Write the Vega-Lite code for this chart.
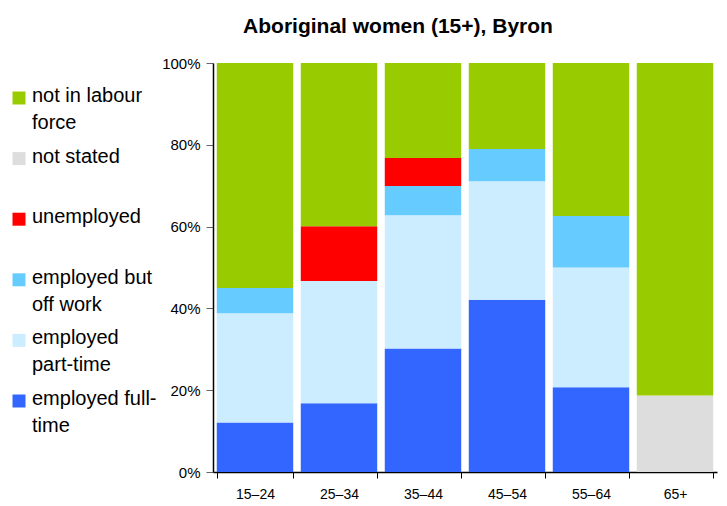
{
  "$schema": "https://vega.github.io/schema/vega-lite/v6.json",
  "autosize": "none",
  "width": 504,
  "height": 409,
  "padding": {"left": 213, "top": 63, "right": 10, "bottom": 34},
  "background": "white",
  "title": {
    "text": "Aboriginal women (15+), Byron",
    "font": "Liberation Sans",
    "fontSize": 21,
    "fontWeight": "bold",
    "color": "black",
    "anchor": "middle",
    "dx": -67,
    "offset": 19
  },
  "data": {
    "values": [
      {"age": "15–24", "status": "employed full-time", "ord": 1, "pct": 12.1},
      {"age": "15–24", "status": "employed part-time", "ord": 2, "pct": 26.7},
      {"age": "15–24", "status": "employed but off work", "ord": 3, "pct": 6.2},
      {"age": "15–24", "status": "not in labour force", "ord": 6, "pct": 55.0},
      {"age": "25–34", "status": "employed full-time", "ord": 1, "pct": 16.8},
      {"age": "25–34", "status": "employed part-time", "ord": 2, "pct": 29.9},
      {"age": "25–34", "status": "unemployed", "ord": 4, "pct": 13.4},
      {"age": "25–34", "status": "not in labour force", "ord": 6, "pct": 39.9},
      {"age": "35–44", "status": "employed full-time", "ord": 1, "pct": 30.2},
      {"age": "35–44", "status": "employed part-time", "ord": 2, "pct": 32.6},
      {"age": "35–44", "status": "employed but off work", "ord": 3, "pct": 7.1},
      {"age": "35–44", "status": "unemployed", "ord": 4, "pct": 6.9},
      {"age": "35–44", "status": "not in labour force", "ord": 6, "pct": 23.2},
      {"age": "45–54", "status": "employed full-time", "ord": 1, "pct": 42.1},
      {"age": "45–54", "status": "employed part-time", "ord": 2, "pct": 29.0},
      {"age": "45–54", "status": "employed but off work", "ord": 3, "pct": 7.9},
      {"age": "45–54", "status": "not in labour force", "ord": 6, "pct": 21.0},
      {"age": "55–64", "status": "employed full-time", "ord": 1, "pct": 20.7},
      {"age": "55–64", "status": "employed part-time", "ord": 2, "pct": 29.3},
      {"age": "55–64", "status": "employed but off work", "ord": 3, "pct": 12.6},
      {"age": "55–64", "status": "not in labour force", "ord": 6, "pct": 37.4},
      {"age": "65+", "status": "not stated", "ord": 0, "pct": 18.7},
      {"age": "65+", "status": "not in labour force", "ord": 6, "pct": 81.3}
    ]
  },
  "mark": {"type": "bar"},
  "encoding": {
    "x": {
      "field": "age",
      "type": "nominal",
      "sort": null,
      "scale": {"paddingInner": 0.09, "paddingOuter": 0.045},
      "axis": {
        "title": null,
        "labelAngle": 0,
        "labelFont": "Liberation Sans",
        "labelFontSize": 14,
        "labelColor": "black",
        "labelPadding": 9,
        "domainColor": "black",
        "domainWidth": 1.5,
        "tickColor": "black",
        "tickSize": 6,
        "tickBand": "extent"
      }
    },
    "y": {
      "field": "pct",
      "type": "quantitative",
      "stack": "normalize",
      "scale": {"domain": [0, 1]},
      "axis": {
        "title": null,
        "format": ".0%",
        "values": [0, 0.2, 0.4, 0.6, 0.8, 1],
        "grid": false,
        "labelFont": "Liberation Sans",
        "labelFontSize": 15,
        "labelColor": "black",
        "labelPadding": 6,
        "domainColor": "black",
        "domainWidth": 1.5,
        "tickColor": "#666666",
        "tickSize": 7
      }
    },
    "order": {"field": "ord", "type": "quantitative"},
    "color": {
      "field": "status",
      "type": "nominal",
      "scale": {
        "domain": ["not in labour force", "not stated", "unemployed", "employed but off work", "employed part-time", "employed full-time"],
        "range": ["#99CC00", "#DDDDDD", "#FF0000", "#66CCFF", "#CCECFF", "#3366FF"]
      },
      "legend": {
        "title": null,
        "orient": "none",
        "legendX": -204,
        "legendY": 25,
        "symbolType": "square",
        "symbolSize": 169,
        "symbolStrokeWidth": 0,
        "labelFont": "Liberation Sans",
        "labelFontSize": 20,
        "labelColor": "black",
        "labelLimit": 300,
        "labelOffset": 3,
        "labelBaseline": "top",
        "rowPadding": 13.6,
        "labelExpr": "datum.label == 'not in labour force' ? ['not in labour', 'force'] : datum.label == 'employed but off work' ? ['employed but', 'off work'] : datum.label == 'employed part-time' ? ['employed', 'part-time'] : datum.label == 'employed full-time' ? ['employed full-', 'time'] : [datum.label, ' ']",
        "encode": {
          "labels": {"update": {"dy": {"value": -12}, "lineHeight": {"value": 27}}}
        }
      }
    }
  },
  "config": {
    "view": {"stroke": null}
  }
}
